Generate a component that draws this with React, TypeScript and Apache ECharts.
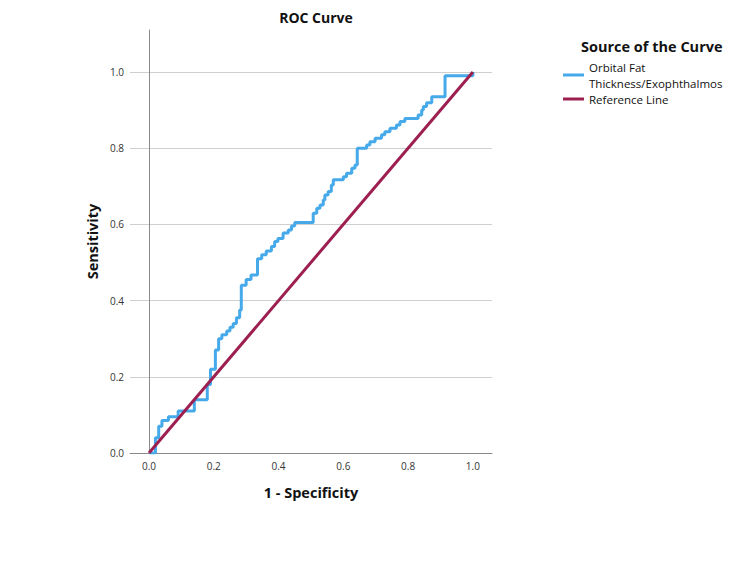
import React, { useEffect, useRef } from "react";
import * as echarts from "echarts";

// ROC staircase vertices (1 - specificity, sensitivity)
const fpr = [
  0, 0.02, 0.02, 0.03, 0.03, 0.04, 0.04, 0.06, 0.06, 0.09, 0.09, 0.14, 0.14, 0.18, 0.18, 0.19, 0.19,
  0.205, 0.205, 0.215, 0.215, 0.225, 0.225, 0.24, 0.24, 0.25, 0.25, 0.26, 0.26, 0.27, 0.27, 0.28, 0.28,
  0.285, 0.285, 0.3, 0.3, 0.315, 0.315, 0.335, 0.335, 0.348, 0.348, 0.362, 0.362, 0.378, 0.378, 0.388,
  0.388, 0.398, 0.398, 0.414, 0.414, 0.43, 0.43, 0.44, 0.44, 0.45, 0.45, 0.507, 0.507, 0.518, 0.518,
  0.528, 0.528, 0.538, 0.538, 0.543, 0.543, 0.553, 0.553, 0.563, 0.563, 0.569, 0.569, 0.6, 0.6, 0.61,
  0.61, 0.626, 0.626, 0.636, 0.636, 0.643, 0.643, 0.672, 0.672, 0.682, 0.682, 0.698, 0.698, 0.718,
  0.718, 0.728, 0.728, 0.744, 0.744, 0.764, 0.764, 0.775, 0.775, 0.79, 0.79, 0.831, 0.831, 0.842,
  0.842, 0.847, 0.847, 0.857, 0.857, 0.873, 0.873, 0.914, 0.914, 1.0, 1.0,
];
const tpr = [
  0, 0, 0.04, 0.04, 0.07, 0.07, 0.085, 0.085, 0.095, 0.095, 0.11, 0.11, 0.14, 0.14, 0.18, 0.18, 0.22,
  0.22, 0.27, 0.27, 0.3, 0.3, 0.31, 0.31, 0.32, 0.32, 0.33, 0.33, 0.34, 0.34, 0.355, 0.355, 0.375,
  0.375, 0.44, 0.44, 0.455, 0.455, 0.467, 0.467, 0.51, 0.51, 0.52, 0.52, 0.53, 0.53, 0.542, 0.542,
  0.555, 0.555, 0.563, 0.563, 0.577, 0.577, 0.585, 0.585, 0.596, 0.596, 0.605, 0.605, 0.629, 0.629,
  0.642, 0.642, 0.651, 0.651, 0.664, 0.664, 0.677, 0.677, 0.686, 0.686, 0.703, 0.703, 0.717, 0.717,
  0.725, 0.725, 0.734, 0.734, 0.747, 0.747, 0.756, 0.756, 0.8, 0.8, 0.808, 0.808, 0.817, 0.817,
  0.826, 0.826, 0.835, 0.835, 0.843, 0.843, 0.852, 0.852, 0.861, 0.861, 0.87, 0.87, 0.878, 0.878,
  0.887, 0.887, 0.9, 0.9, 0.909, 0.909, 0.919, 0.919, 0.935, 0.935, 0.99, 0.99, 1.0,
];

// Diagonal reference line
const refX = [0, 1];
const refY = [0, 1];

const xTickLabels = [0, 0.2, 0.4, 0.6, 0.8, 1.0];

const curveName = "Orbital Fat\nThickness/Exophthalmos";
const refName = "Reference Line";

const FONT = "'Open Sans', 'Noto Sans', sans-serif";

export default function App() {
  const ref = useRef<HTMLDivElement>(null);

  useEffect(() => {
    if (!ref.current) return;
    const chart = echarts.init(ref.current, undefined, { renderer: "svg" });
    chart.setOption({
      animation: false,
      backgroundColor: "#ffffff",
      textStyle: { fontFamily: FONT },
      title: [
        {
          text: "ROC Curve",
          left: 311,
          textAlign: "center",
          top: 5,
          textStyle: { fontFamily: FONT, fontSize: 14, fontWeight: "bold", color: "#111" },
        },
        {
          text: "Source of the Curve",
          left: 576,
          top: 34,
          textStyle: { fontFamily: FONT, fontSize: 14.5, fontWeight: "bold", color: "#111" },
        },
      ],
      legend: {
        orient: "vertical",
        left: 558,
        top: 54,
        itemWidth: 21,
        itemHeight: 3,
        itemGap: 0,
        icon: "rect",
        textStyle: { fontFamily: FONT, fontSize: 11.5, color: "#111", lineHeight: 16 },
        data: [curveName, refName],
      },
      grid: { left: 130, right: 258, top: 30, bottom: 110 },
      xAxis: {
        type: "value",
        min: -0.0586,
        max: 1.059,
        name: "1 - Specificity",
        nameLocation: "middle",
        nameGap: 32,
        nameTextStyle: { fontFamily: FONT, fontSize: 14.5, fontWeight: "bold", color: "#111" },
        axisLine: { show: true, onZero: false, lineStyle: { color: "#8a8a8a", width: 1 } },
        axisTick: { show: false },
        splitLine: { show: false },
        axisLabel: {
          customValues: xTickLabels,
          formatter: (v: number) => v.toFixed(1),
          fontSize: 10,
          color: "#333",
          margin: 8,
        },
      },
      yAxis: {
        type: "value",
        min: 0,
        max: 1.11,
        interval: 0.2,
        name: "Sensitivity",
        nameLocation: "middle",
        nameRotate: 90,
        nameGap: 30,
        nameTextStyle: { fontFamily: FONT, fontSize: 14.5, fontWeight: "bold", color: "#111" },
        axisLine: { show: true, lineStyle: { color: "#8a8a8a", width: 1 } },
        axisTick: { show: false },
        axisLabel: {
          showMaxLabel: false,
          formatter: (v: number) => (v > 1.0001 ? "" : v.toFixed(1)),
          fontSize: 10,
          color: "#333",
          margin: 6,
        },
        splitLine: {
          show: true,
          showMinLine: false,
          showMaxLine: false,
          lineStyle: { color: "#cfcfcf", width: 1 },
        },
      },
      series: [
        {
          name: curveName,
          type: "line",
          data: fpr.map((x, i) => [x, tpr[i]]),
          showSymbol: false,
          symbol: "none",
          lineStyle: { color: "#45a9ea", width: 3 },
          itemStyle: { color: "#45a9ea" },
          z: 2,
        },
        {
          name: refName,
          type: "line",
          data: refX.map((x, i) => [x, refY[i]]),
          showSymbol: false,
          symbol: "none",
          lineStyle: { color: "#9c1f50", width: 3 },
          itemStyle: { color: "#9c1f50" },
          z: 3,
        },
      ],
    });
    return () => chart.dispose();
  }, []);

  return (
    <div
      ref={ref}
      style={{ position: "fixed", left: 0, top: 0, width: 750, height: 563, background: "#fff" }}
    />
  );
}
